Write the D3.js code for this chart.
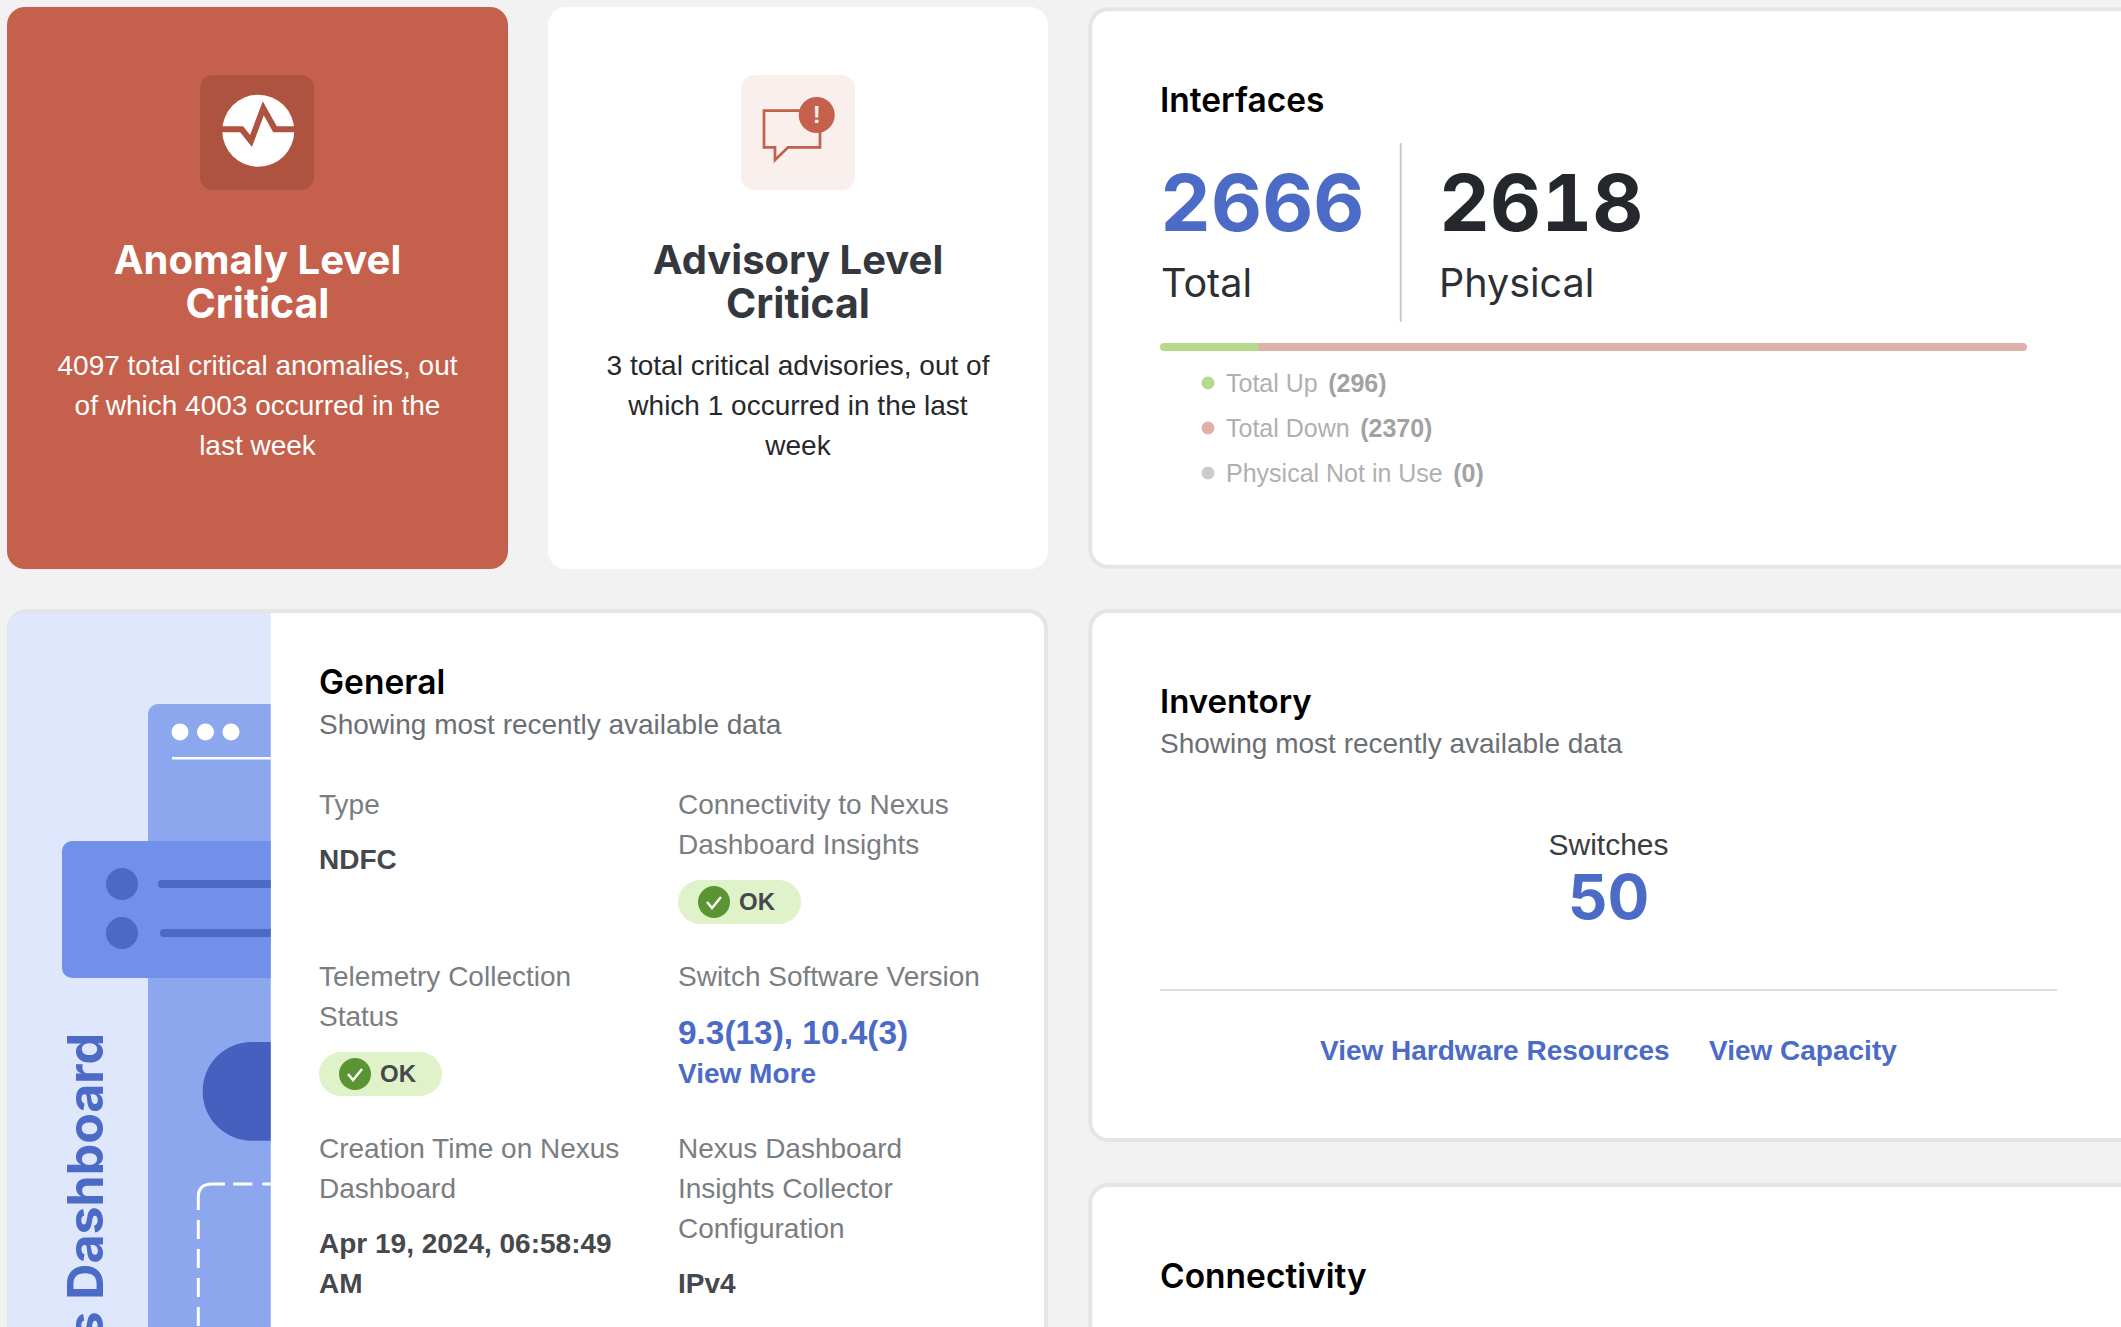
<!DOCTYPE html>
<html><head><meta charset="utf-8">
<style>html,body{margin:0;padding:0;background:#f2f2f2;overflow:hidden}svg{display:block}
.s{font-family:"Liberation Sans",Arial,sans-serif}.h{font-family:Inter,sans-serif}.tn{font-variant-numeric:tabular-nums;font-feature-settings:"tnum" 1}</style>
<script src="https://cdn.jsdelivr.net/npm/d3@7"></script></head><body>
<svg id="c" width="2121" height="1327"></svg>
<script>
const interfaceCategories=["Total Up","Total Down","Physical Not in Use"];
const interfaceValues=[296,2370,0];
const interfaceColors=["#b5d98d","#dfb0a7","#cccccc"];
const anomalyTexts=["4097 total critical anomalies, out","of which 4003 occurred in the","last week"];
const advisoryTexts=["3 total critical advisories, out of","which 1 occurred in the last","week"];
const totals=[2666,2618];
const switchCount=[50];

const svg=d3.select("#c");
const BLUE="#4b6bc6",RED="#c4604b";
function T(t,x,y,size,fill,opt={}){
  return (opt.parent||svg).append("text").attr("class",opt.h?"h":"s").attr("x",x).attr("y",y)
   .attr("font-size",size).attr("fill",fill).attr("font-weight",opt.w||400)
   .attr("text-anchor",opt.a||"start").text(t);
}
function card(x,y,w,h,fill,border){
  svg.append("rect").attr("x",x).attr("y",y).attr("width",w).attr("height",h).attr("rx",18)
   .attr("fill",fill).attr("stroke",border||"none").attr("stroke-width",border?4:0);
}
const BORDER="#e4e5e9";
card(7,7,501,562,RED);
card(548,7,500,562,"#fff");
card(1090.3,9.3,1060,557.4,"#fff",BORDER);
card(9,611,1037,760,"#fff",BORDER);
card(1090.3,611,1060,529,"#fff",BORDER);
card(1090.3,1185,1060,300,"#fff",BORDER);

// anomaly icon
svg.append("rect").attr("x",200).attr("y",75).attr("width",114).attr("height",115).attr("rx",13).attr("fill","#ad5340");
svg.append("circle").attr("cx",258.3).attr("cy",130.7).attr("r",36).attr("fill","#fff");
svg.append("path").attr("d","M220 129.3H241.7L251 141L263.3 108.3L275 129.3H297").attr("fill","none").attr("stroke","#ad5340").attr("stroke-width",6);
T("Anomaly Level",257.5,274,40,"#fff",{h:1,w:700,a:"middle"});
T("Critical",257.5,318,41,"#fff",{h:1,w:700,a:"middle"});
anomalyTexts.forEach((t,i)=>T(t,257.5,375+i*40,28,"#fff",{a:"middle"}));

// advisory icon
svg.append("rect").attr("x",741).attr("y",75).attr("width",114).attr("height",115).attr("rx",13).attr("fill","#f9f0ed");
svg.append("path").attr("d","M802 110.7H764V147.3H775V160L788 147.3H820V130").attr("fill","none").attr("stroke",RED).attr("stroke-width",2.7);
svg.append("circle").attr("cx",816.7).attr("cy",115).attr("r",18).attr("fill",RED);
T("!",816.7,123,24,"#f9f0ed",{a:"middle",w:700});
T("Advisory Level",798,274,40,"#34383e",{h:1,w:700,a:"middle"});
T("Critical",798,318,41,"#34383e",{h:1,w:700,a:"middle"});
advisoryTexts.forEach((t,i)=>T(t,798,375+i*40,28,"#26282b",{a:"middle"}));

// interfaces
T("Interfaces",1160,112,33.5,"#000",{h:1,w:600});
T(String(totals[0]),1160,231,79,BLUE,{h:1,w:700}).classed("tn",true);
T(String(totals[1]),1439,231,79,"#24272b",{h:1,w:700}).classed("tn",true);
T("Total",1161,297,39.5,"#2c2f33",{h:1});
T("Physical",1439,297,39.5,"#2c2f33",{h:1});
svg.append("line").attr("x1",1400.7).attr("x2",1400.7).attr("y1",143).attr("y2",322).attr("stroke","#c8c8c8").attr("stroke-width",1.8);
const bx=d3.scaleLinear().domain([0,totals[1]]).range([1160,2027]);
svg.append("clipPath").attr("id","barClip").append("rect").attr("x",1160).attr("y",343).attr("width",867).attr("height",8).attr("rx",4);
let acc=0;
const stacks=interfaceValues.map(v=>{const o={x0:acc,x1:acc+v};acc+=v;return o;});
svg.append("g").attr("clip-path","url(#barClip)").selectAll("rect").data(stacks).join("rect")
 .attr("x",d=>bx(d.x0)).attr("y",343).attr("width",d=>bx(d.x1)-bx(d.x0)).attr("height",8)
 .attr("fill",(d,i)=>interfaceColors[i]);
const ly=d3.scalePoint().domain(interfaceCategories).range([383,473]);
interfaceCategories.forEach((c,i)=>{
  svg.append("circle").attr("cx",1208).attr("cy",ly(c)).attr("r",6.5).attr("fill",interfaceColors[i]);
  const t=T(c,1226,ly(c)+9,25,"#b0b0b0");
  t.append("tspan").attr("dx",10.5).attr("font-weight",700).attr("fill","#a2a2a2").text("("+interfaceValues[i]+")");
});

// illustration
const defs=svg.append("defs");
defs.append("clipPath").attr("id","ill").append("path").attr("d","M8.5 1327V630Q8.5 613 25 613H270.7V1327Z");
const ill=svg.append("g").attr("clip-path","url(#ill)");
ill.append("rect").attr("x",0).attr("y",600).attr("width",271).attr("height",727).attr("fill","#dfe7fd");
ill.append("rect").attr("x",148).attr("y",704).attr("width",200).attr("height",700).attr("rx",10).attr("fill","#8da7ee");
[180,205.5,231].forEach(x=>ill.append("circle").attr("cx",x).attr("cy",732).attr("r",8.5).attr("fill","#fff"));
ill.append("rect").attr("x",172).attr("y",757).attr("width",110).attr("height",2.5).attr("fill","#fff");
ill.append("rect").attr("x",62).attr("y",841).attr("width",300).attr("height",137).attr("rx",10).attr("fill","#7090ea");
[[884,158],[933,160]].forEach(([y,x])=>{
  ill.append("circle").attr("cx",122).attr("cy",y).attr("r",16).attr("fill","#4c69c4");
  ill.append("rect").attr("x",x).attr("y",y-4).attr("width",150).attr("height",8).attr("rx",4).attr("fill","#4c69c4");
});
ill.append("rect").attr("x",202.7).attr("y",1042).attr("width",200).attr("height",98.7).attr("rx",49).attr("fill","#4660bf");
const dash={fill:"none",stroke:"#fff","stroke-width":3};
const dp=(d,da)=>{const p=ill.append("path").attr("d",d);Object.entries(dash).forEach(([k,v])=>p.attr(k,v));if(da)p.attr("stroke-dasharray",da);};
dp("M198.3 1210V1197Q198.3 1184 212 1184H225");
dp("M198.3 1220V1340","19 10");
dp("M233.3 1184H290","19 10");
T("s Dashboard",0,0,50,BLUE,{h:1,w:700,a:"end"}).attr("transform","translate(103,1033) rotate(-90)");

// general
T("General",319,694,33.5,"#000",{h:1,w:600});
T("Showing most recently available data",319,734,28,"#6b6f73");
const G="#7a7d81",D="#45484c";
T("Type",319,814,28,G);
T("NDFC",319,869,28,D,{w:700});
["Connectivity to Nexus","Dashboard Insights"].forEach((t,i)=>T(t,678,814+i*40,28,G));
function badge(x,y){
  svg.append("rect").attr("x",x).attr("y",y).attr("width",123).attr("height",44).attr("rx",22).attr("fill","#dff2c9");
  svg.append("circle").attr("cx",x+36).attr("cy",y+22).attr("r",16).attr("fill","#5a9433");
  svg.append("path").attr("d",`M${x+29} ${y+22}l5 6l9 -11`).attr("fill","none").attr("stroke","#fff").attr("stroke-width",2.4);
  T("OK",x+61,y+30,24,D,{w:700});
}
badge(678,880);
["Telemetry Collection","Status"].forEach((t,i)=>T(t,319,986+i*40,28,G));
badge(319,1052);
T("Switch Software Version",678,986,28,G);
T("9.3(13), 10.4(3)",678,1044,33.4,BLUE,{w:700});
T("View More",678,1083,28,BLUE,{w:700});
["Creation Time on Nexus","Dashboard"].forEach((t,i)=>T(t,319,1158+i*40,28,G));
["Apr 19, 2024, 06:58:49","AM"].forEach((t,i)=>T(t,319,1253+i*40,28,D,{w:700}));
["Nexus Dashboard","Insights Collector","Configuration"].forEach((t,i)=>T(t,678,1158+i*40,28,G));
T("IPv4",678,1293,28,D,{w:700});

// inventory
T("Inventory",1160,713,33,"#000",{h:1,w:600});
T("Showing most recently available data",1160,753,28,"#6b6f73");
T("Switches",1608.5,855,30,"#3a3d40",{a:"middle"});
T(String(switchCount[0]),1608.5,919,62,BLUE,{h:1,w:700,a:"middle"});
svg.append("line").attr("x1",1160).attr("x2",2057).attr("y1",990).attr("y2",990).attr("stroke","#dedfe1").attr("stroke-width",2);
T("View Hardware Resources",1320,1060,28,BLUE,{w:700});
T("View Capacity",1709,1060,28,BLUE,{w:700});
T("Connectivity",1160,1288,33.5,"#000",{h:1,w:600});
</script></body></html>
